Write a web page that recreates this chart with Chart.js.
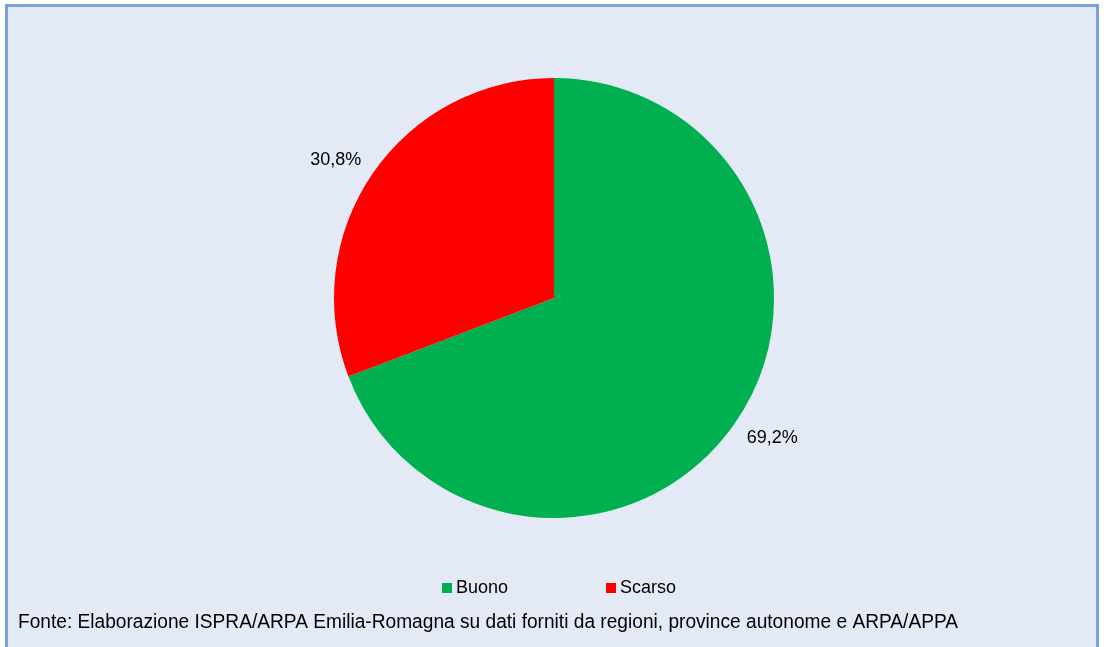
<!DOCTYPE html>
<html>
<head>
<meta charset="utf-8">
<script src="https://cdn.jsdelivr.net/npm/chart.js@4"></script>
<style>
  html, body { margin: 0; padding: 0; background: #ffffff; }
  body { width: 1104px; height: 647px; position: relative; overflow: hidden; }
  #frame { position: absolute; left: 5px; top: 4px; width: 1088px; height: 700px;
           border: 3px solid #7BA2DA; background: #E3EAF6; }
  #wrap { position: absolute; left: 0; top: 0; width: 1104px; height: 647px; }
</style>
</head>
<body>
<div id="frame"></div>
<div id="wrap"><canvas id="c" width="1104" height="647"></canvas></div>
<script>
const categories = ["Buono", "Scarso"];
const values = [69.2, 30.8];
const valueLabels = ["69,2%", "30,8%"];
const colors = ["#00B050", "#FF0000"];
const sourceText = "Fonte: Elaborazione ISPRA/ARPA Emilia-Romagna su dati forniti da regioni, province autonome e ARPA/APPA";

const labelPlugin = {
  id: 'outLabels',
  afterDatasetsDraw(chart) {
    const ctx = chart.ctx;
    const meta = chart.getDatasetMeta(0);
    ctx.save();
    ctx.font = '18px "Liberation Sans", Arial, sans-serif';
    ctx.fillStyle = '#000000';
    ctx.textBaseline = 'middle';
    meta.data.forEach((arc, i) => {
      const p = arc.getProps(['x', 'y', 'startAngle', 'endAngle', 'outerRadius'], true);
      const mid = (p.startAngle + p.endAngle) / 2;
      const r = p.outerRadius + 14;
      const ax = p.x + Math.cos(mid) * r;
      const ay = p.y + Math.sin(mid) * r;
      const t = valueLabels[i];
      const w = ctx.measureText(t).width;
      const cx = ax + (Math.cos(mid) >= 0 ? w / 2 : -w / 2);
      const cy = ay + (Math.sin(mid) >= 0 ? 7 : -5);
      ctx.textAlign = 'center';
      ctx.fillText(t, cx, cy);
    });
    ctx.restore();
  },
  afterDraw(chart) {
    const ctx = chart.ctx;
    ctx.save();
    // legend
    ctx.font = '18px "Liberation Sans", Arial, sans-serif';
    ctx.textBaseline = 'middle';
    ctx.textAlign = 'left';
    const legendX = [442, 606];
    categories.forEach((c, i) => {
      ctx.fillStyle = colors[i];
      ctx.fillRect(legendX[i], 583, 10, 10);
      ctx.fillStyle = '#000000';
      ctx.fillText(c, legendX[i] + 14, 588.5);
    });
    // source
    ctx.font = '20px "Liberation Sans Narrow", "Arial Narrow", "Liberation Sans", sans-serif';
    ctx.textBaseline = 'alphabetic';
    const target = 940;
    const w = ctx.measureText(sourceText).width;
    ctx.translate(18, 627.5);
    ctx.scale(target / w, 1);
    ctx.fillText(sourceText, 0, 0);
    ctx.restore();
  }
};

new Chart(document.getElementById('c'), {
  type: 'pie',
  data: {
    labels: categories,
    datasets: [{ data: values, backgroundColor: colors, borderWidth: 0 }]
  },
  options: {
    responsive: false,
    animation: false,
    layout: { padding: { top: 78, bottom: 129, left: 8, right: 4 } },
    plugins: { legend: { display: false }, tooltip: { enabled: false } }
  },
  plugins: [labelPlugin]
});
</script>
</body>
</html>
